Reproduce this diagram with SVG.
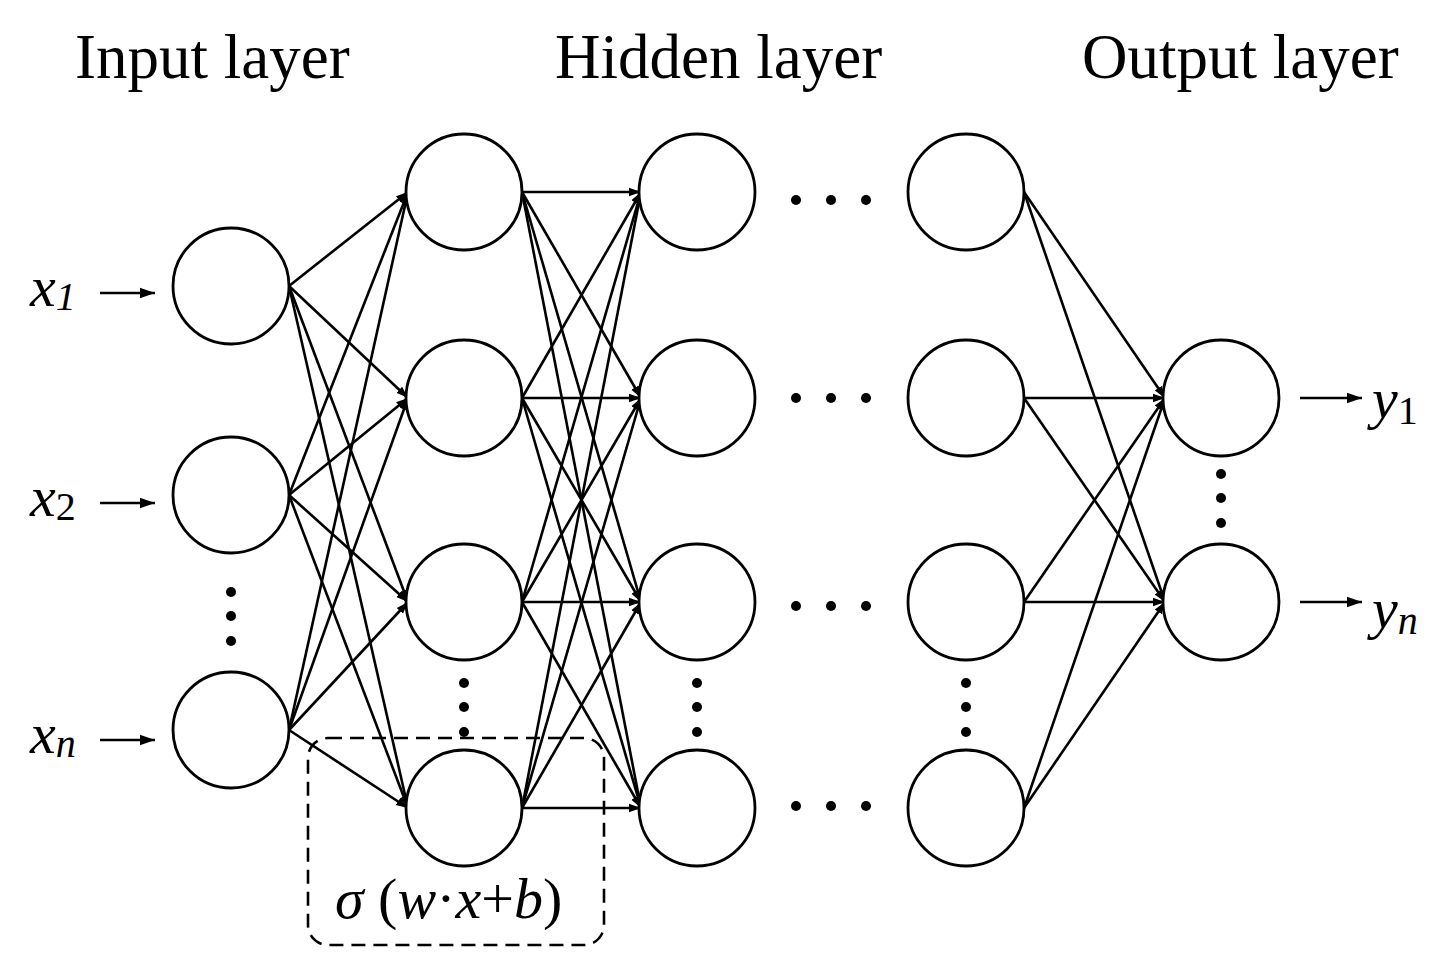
<svg xmlns="http://www.w3.org/2000/svg" width="1449" height="977" viewBox="0 0 1449 977">
<style>
.n{fill:#fff;stroke:#000;stroke-width:2.8}
.c line{stroke:#000;stroke-width:2.6}
.a{marker-end:url(#ah)}
.t{font-family:"Liberation Serif",serif;font-size:63px}
.i{font-family:"Liberation Serif",serif;font-size:58px;font-style:italic}
.d{fill:#000}
</style>
<defs><marker id="ah" viewBox="0 0 10 10" refX="10" refY="5" markerWidth="12" markerHeight="12" orient="auto" markerUnits="userSpaceOnUse"><path d="M0,1.5 L10,5 L0,8.5 Z"/></marker>
<marker id="ah2" viewBox="0 0 10 10" refX="10" refY="5" markerWidth="15" markerHeight="15" orient="auto" markerUnits="userSpaceOnUse"><path d="M0,1.5 L10,5 L0,8.5 Z"/></marker></defs>
<rect width="1449" height="977" fill="#fff"/>
<text class="t" x="75" y="78">Input layer</text>
<text class="t" x="555" y="78">Hidden layer</text>
<text class="t" x="1082" y="78">Output layer</text>
<g class="c" id="connectors">
<line class="a" x1="289" y1="286" x2="408" y2="192"/><line class="a" x1="289" y1="286" x2="408" y2="398"/><line class="a" x1="289" y1="286" x2="408" y2="602"/><line class="a" x1="289" y1="286" x2="408" y2="808"/>
<line class="a" x1="289" y1="495" x2="408" y2="192"/><line class="a" x1="289" y1="495" x2="408" y2="398"/><line class="a" x1="289" y1="495" x2="408" y2="602"/><line class="a" x1="289" y1="495" x2="408" y2="808"/>
<line class="a" x1="289" y1="730" x2="408" y2="192"/><line class="a" x1="289" y1="730" x2="408" y2="398"/><line class="a" x1="289" y1="730" x2="408" y2="602"/><line class="a" x1="289" y1="730" x2="408" y2="808"/>
<line class="a" x1="522" y1="192" x2="641" y2="192"/><line class="a" x1="522" y1="192" x2="641" y2="398"/><line class="a" x1="522" y1="192" x2="641" y2="602"/><line class="a" x1="522" y1="192" x2="641" y2="808"/>
<line class="a" x1="522" y1="398" x2="641" y2="192"/><line class="a" x1="522" y1="398" x2="641" y2="398"/><line class="a" x1="522" y1="398" x2="641" y2="602"/><line class="a" x1="522" y1="398" x2="641" y2="808"/>
<line class="a" x1="522" y1="602" x2="641" y2="192"/><line class="a" x1="522" y1="602" x2="641" y2="398"/><line class="a" x1="522" y1="602" x2="641" y2="602"/><line class="a" x1="522" y1="602" x2="641" y2="808"/>
<line class="a" x1="522" y1="808" x2="641" y2="192"/><line class="a" x1="522" y1="808" x2="641" y2="398"/><line class="a" x1="522" y1="808" x2="641" y2="602"/><line class="a" x1="522" y1="808" x2="641" y2="808"/>
<line class="a" x1="1024" y1="192" x2="1165" y2="398"/><line class="a" x1="1024" y1="192" x2="1165" y2="602"/>
<line class="a" x1="1024" y1="398" x2="1165" y2="398"/><line class="a" x1="1024" y1="398" x2="1165" y2="602"/>
<line class="a" x1="1024" y1="602" x2="1165" y2="398"/><line class="a" x1="1024" y1="602" x2="1165" y2="602"/>
<line class="a" x1="1024" y1="808" x2="1165" y2="398"/><line class="a" x1="1024" y1="808" x2="1165" y2="602"/>
<line x1="100" y1="293" x2="155" y2="293" marker-end="url(#ah2)"/>
<line x1="100" y1="503" x2="155" y2="503" marker-end="url(#ah2)"/>
<line x1="100" y1="740" x2="155" y2="740" marker-end="url(#ah2)"/>
<line x1="1300" y1="398" x2="1362" y2="398" marker-end="url(#ah2)"/>
<line x1="1300" y1="602" x2="1362" y2="602" marker-end="url(#ah2)"/>
</g>
<g id="input"><circle class="n" cx="231" cy="286" r="58"/><circle class="n" cx="231" cy="495" r="58"/><circle class="n" cx="231" cy="730" r="58"/></g>
<g id="hidden1"><circle class="n" cx="464" cy="192" r="58"/><circle class="n" cx="464" cy="398" r="58"/><circle class="n" cx="464" cy="602" r="58"/><circle class="n" cx="464" cy="808" r="58"/></g>
<g id="hidden2"><circle class="n" cx="697" cy="192" r="58"/><circle class="n" cx="697" cy="398" r="58"/><circle class="n" cx="697" cy="602" r="58"/><circle class="n" cx="697" cy="808" r="58"/></g>
<g id="hidden3"><circle class="n" cx="966" cy="192" r="58"/><circle class="n" cx="966" cy="398" r="58"/><circle class="n" cx="966" cy="602" r="58"/><circle class="n" cx="966" cy="808" r="58"/></g>
<g id="output"><circle class="n" cx="1221" cy="398" r="58"/><circle class="n" cx="1221" cy="602" r="58"/></g>
<g id="dots">
<circle class="d" cx="796" cy="200" r="5"/><circle class="d" cx="831" cy="200" r="5"/><circle class="d" cx="866" cy="200" r="5"/>
<circle class="d" cx="796" cy="398" r="5"/><circle class="d" cx="831" cy="398" r="5"/><circle class="d" cx="866" cy="398" r="5"/>
<circle class="d" cx="796" cy="606" r="5"/><circle class="d" cx="831" cy="606" r="5"/><circle class="d" cx="866" cy="606" r="5"/>
<circle class="d" cx="796" cy="806" r="5"/><circle class="d" cx="831" cy="806" r="5"/><circle class="d" cx="866" cy="806" r="5"/>
<circle class="d" cx="231" cy="592" r="5"/><circle class="d" cx="231" cy="616" r="5"/><circle class="d" cx="231" cy="641" r="5"/>
<circle class="d" cx="464" cy="683" r="5"/><circle class="d" cx="464" cy="707" r="5"/><circle class="d" cx="464" cy="732" r="5"/>
<circle class="d" cx="697" cy="683" r="5"/><circle class="d" cx="697" cy="707" r="5"/><circle class="d" cx="697" cy="732" r="5"/>
<circle class="d" cx="966" cy="683" r="5"/><circle class="d" cx="966" cy="707" r="5"/><circle class="d" cx="966" cy="732" r="5"/>
<circle class="d" cx="1221" cy="474" r="5"/><circle class="d" cx="1221" cy="498" r="5"/><circle class="d" cx="1221" cy="523" r="5"/>
</g>
<rect x="308" y="738" width="296" height="207" rx="20" fill="none" stroke="#000" stroke-width="2.6" stroke-dasharray="14,8"/>
<text x="335" y="918" style="font-family:'Liberation Serif',serif;font-size:58px"><tspan font-style="italic">σ</tspan> (<tspan font-style="italic">w</tspan>·<tspan font-style="italic">x</tspan>+<tspan font-style="italic">b</tspan>)</text>
<text class="i" x="30" y="306">x<tspan font-size="40" dy="4">1</tspan></text>
<text class="i" x="30" y="516">x<tspan font-size="40" dy="4" font-style="normal">2</tspan></text>
<text class="i" x="30" y="753">x<tspan font-size="40" dy="4">n</tspan></text>
<text class="i" x="1372" y="418">y<tspan font-size="40" dy="6" font-style="normal">1</tspan></text>
<text class="i" x="1372" y="628">y<tspan font-size="40" dy="6">n</tspan></text>
</svg>
